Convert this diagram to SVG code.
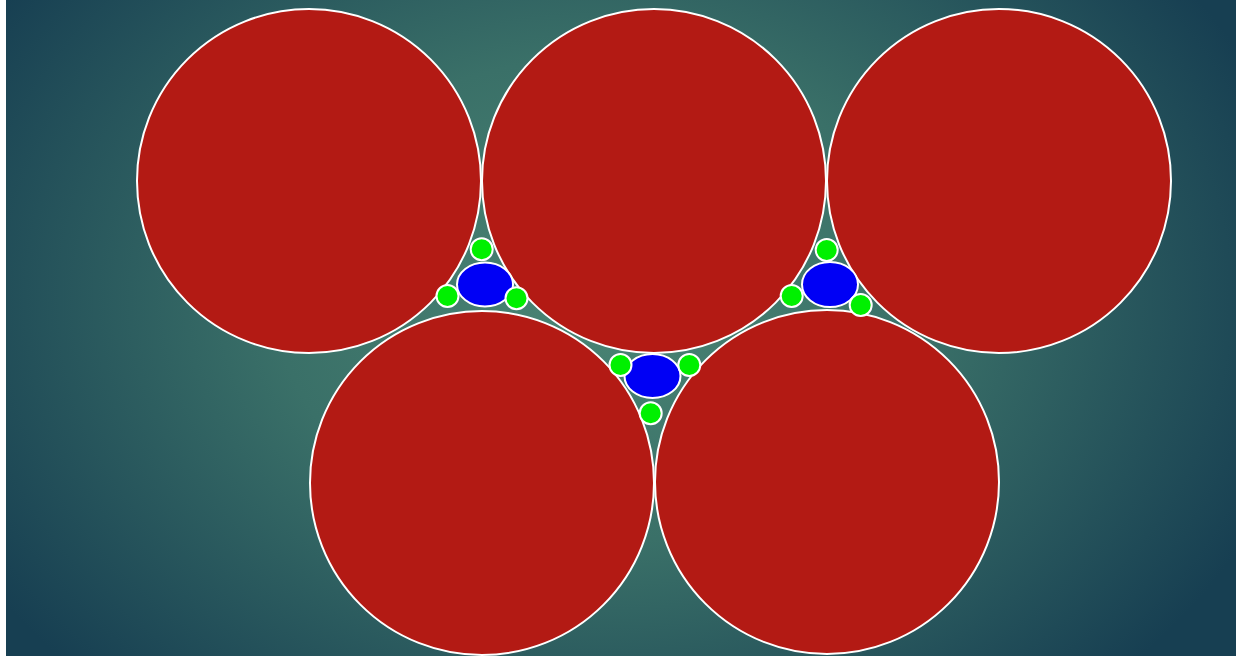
<svg xmlns="http://www.w3.org/2000/svg" width="1236" height="656" viewBox="0 0 1236 656">
<defs>
<radialGradient id="bg" cx="600" cy="300" r="720" gradientUnits="userSpaceOnUse" gradientTransform="translate(600 300) scale(1 0.75) translate(-600 -300)">
<stop offset="0" stop-color="#4a8574"/>
<stop offset="0.45" stop-color="#3a7068"/>
<stop offset="1" stop-color="#173f52"/>
</radialGradient>
<style>
.big{fill:#b31a14;stroke:#fff;stroke-width:2}
.blue{fill:#0000f5;stroke:#fff;stroke-width:2}
.green{fill:#00f000;stroke:#fff;stroke-width:2}
</style>
</defs>
<rect x="0" y="0" width="1236" height="656" fill="#fff"/>
<rect x="6" y="0" width="1230" height="656" fill="url(#bg)"/>
<g id="big-circles">
<circle id="c1" class="big" cx="309" cy="181" r="172"/>
<circle id="c2" class="big" cx="654" cy="181" r="172"/>
<circle id="c3" class="big" cx="999" cy="181" r="172"/>
<circle id="c4" class="big" cx="482" cy="483" r="172"/>
<circle id="c5" class="big" cx="827" cy="482" r="172"/>
</g>
<g id="gap-left">
<ellipse class="blue" cx="485" cy="284.5" rx="28" ry="22"/>
<circle class="green" cx="481.7" cy="249.3" r="11"/>
<circle class="green" cx="447.5" cy="296" r="11"/>
<circle class="green" cx="516.5" cy="298.3" r="11"/>
</g>
<g id="gap-middle">
<ellipse class="blue" cx="652.5" cy="376" rx="28" ry="22"/>
<circle class="green" cx="620.5" cy="365" r="11"/>
<circle class="green" cx="689.3" cy="365" r="11"/>
<circle class="green" cx="650.7" cy="413.3" r="11"/>
</g>
<g id="gap-right">
<ellipse class="blue" cx="830" cy="284.5" rx="28" ry="22.5"/>
<circle class="green" cx="826.7" cy="250" r="11"/>
<circle class="green" cx="791.7" cy="296" r="11"/>
<circle class="green" cx="860.7" cy="305" r="11"/>
</g>
<g id="connectors"/>
</svg>
